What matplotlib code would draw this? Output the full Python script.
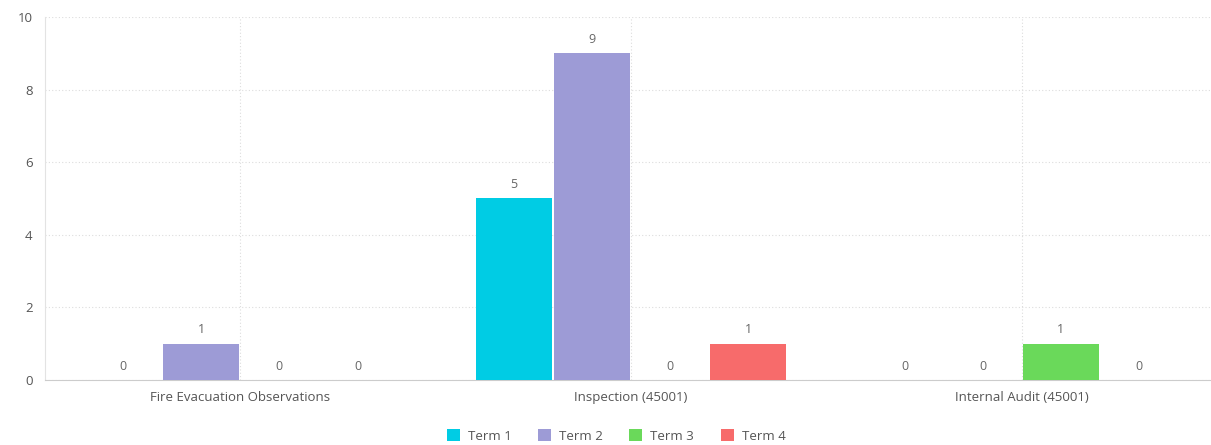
import numpy as np
import matplotlib.pyplot as plt

# data
categories = ["Fire Evacuation Observations", "Inspection (45001)", "Internal Audit (45001)"]
terms = ["Term 1", "Term 2", "Term 3", "Term 4"]
term1 = [0, 5, 0]
term2 = [1, 9, 0]
term3 = [0, 0, 1]
term4 = [0, 1, 0]
colors = ["#00CCE4", "#9D9BD6", "#6AD95A", "#F76B6B"]

plt.rcParams["font.family"] = ["Open Sans", "DejaVu Sans"]

fig = plt.figure(figsize=(12.11, 4.45), dpi=100)
ax = fig.add_axes([45 / 1211, 65 / 445, 1172 / 1211, 363 / 445])

x = np.arange(len(categories))
width = 0.195
offsets = [-0.3, -0.1, 0.1, 0.3]
series = [term1, term2, term3, term4]

for vals, off, col, name in zip(series, offsets, colors, terms):
    bars = ax.bar(x + off, vals, width, color=col, label=name, zorder=3)
    for b, v in zip(bars, vals):
        ax.annotate(str(v), (b.get_x() + b.get_width() / 2, v),
                    xytext=(0, 10), textcoords="offset points",
                    ha="center", va="center", fontsize=9, color="#666666")

ax.set_ylim(0, 10)
ax.set_xlim(-0.5, 2.5)
ax.set_yticks([0, 2, 4, 6, 8, 10])
ax.set_xticks(x)
ax.set_xticklabels(categories)
ax.tick_params(axis="both", length=0, labelsize=9.5, colors="#555555")
ax.tick_params(axis="y", pad=9)
ax.tick_params(axis="x", pad=8)

ax.grid(True, linestyle=(0, (1, 2)), color="#dddddd", linewidth=0.8, zorder=0)
for s in ["top", "right"]:
    ax.spines[s].set_visible(False)
ax.spines["left"].set_color("#e3e3e3")
ax.spines["bottom"].set_color("#cccccc")

leg = fig.legend(loc="center", bbox_to_anchor=(616 / 1211, 1 - 436 / 445),
                 ncol=4, frameon=False, fontsize=9.5, handlelength=1.0,
                 handleheight=1.0, handletextpad=0.6, columnspacing=2.0)
for t in leg.get_texts():
    t.set_color("#555555")

fig.savefig("out.png", dpi=100)
